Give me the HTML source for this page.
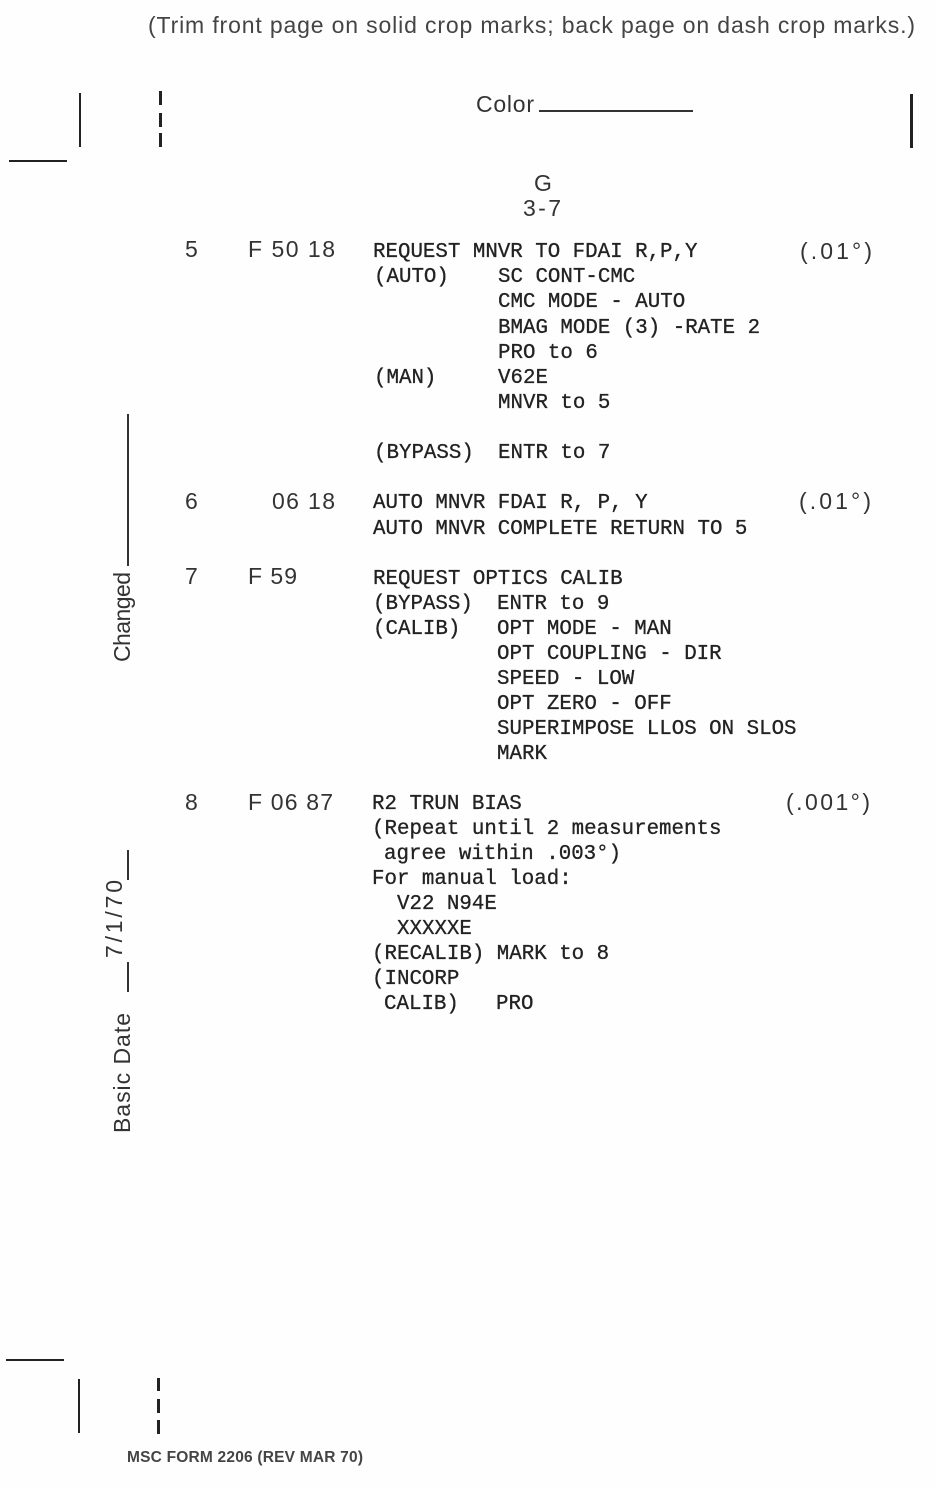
<!DOCTYPE html>
<html>
<head>
<meta charset="utf-8">
<style>
html,body{margin:0;padding:0;background:#fff;width:937px;height:1488px;overflow:hidden}
svg{display:block}
.m{font-family:"Liberation Mono",monospace;font-size:20.8px;fill:#222;stroke:#222;stroke-width:.3px}
.s{font-family:"Liberation Sans",sans-serif;font-size:23px;fill:#333}
</style>
</head>
<body>
<svg width="937" height="1488" viewBox="0 0 937 1488" xmlns="http://www.w3.org/2000/svg">
<rect width="937" height="1488" fill="#fefefe"/>
<text class="s" x="148" y="33" textLength="767" lengthAdjust="spacing" style="fill:#444">(Trim front page on solid crop marks; back page on dash crop marks.)</text>
<text class="s" x="476" y="112" textLength="58" lengthAdjust="spacing">Color</text>
<rect x="539" y="110" width="154" height="2" fill="#333"/>

<!-- crop marks -->
<g fill="#222">
<rect x="79" y="93" width="2" height="54"/>
<rect x="159" y="91" width="3" height="14"/>
<rect x="159" y="113" width="3" height="14"/>
<rect x="159" y="133" width="3" height="14"/>
<rect x="910" y="94" width="3" height="54"/>
<rect x="9" y="160" width="58" height="2"/>
<rect x="6" y="1359" width="58" height="2"/>
<rect x="78" y="1379" width="2" height="54"/>
<rect x="157" y="1378" width="3" height="13"/>
<rect x="157" y="1399" width="3" height="14"/>
<rect x="157" y="1420" width="3" height="14"/>
</g>

<!-- side -->
<rect x="127" y="414" width="2" height="152" fill="#333"/>
<rect x="127" y="850" width="2" height="30" fill="#333"/>
<rect x="127" y="962" width="2" height="30" fill="#333"/>
<text class="s" transform="translate(130,662) rotate(-90)" textLength="90" lengthAdjust="spacing">Changed</text>
<text class="s" transform="translate(122,958) rotate(-90)" textLength="78" lengthAdjust="spacing">7/1/70</text>
<text class="s" transform="translate(130,1133) rotate(-90)" textLength="120" lengthAdjust="spacing">Basic Date</text>

<text class="s" x="534" y="191">G</text>
<text class="s" x="523" y="216" textLength="38" lengthAdjust="spacing">3-7</text>

<!-- numbers -->
<text class="s" x="185" y="257">5</text>
<text class="s" x="248" y="257" textLength="87" lengthAdjust="spacing">F 50 18</text>
<text class="s" x="185" y="509">6</text>
<text class="s" x="272" y="509" textLength="63" lengthAdjust="spacing">06 18</text>
<text class="s" x="185" y="584">7</text>
<text class="s" x="248" y="584" textLength="49" lengthAdjust="spacing">F 59</text>
<text class="s" x="185" y="810">8</text>
<text class="s" x="248" y="810" textLength="85" lengthAdjust="spacing">F 06 87</text>

<text class="s" x="800" y="259" textLength="72" lengthAdjust="spacing">(.01°)</text>
<text class="s" x="799" y="509" textLength="72" lengthAdjust="spacing">(.01°)</text>
<text class="s" x="786" y="810" textLength="84" lengthAdjust="spacing">(.001°)</text>

<!-- body -->
<text class="m" x="373" y="257">REQUEST MNVR TO FDAI R,P,Y</text>
<text class="m" x="374" y="282">(AUTO)</text>
<text class="m" x="498" y="282">SC CONT-CMC</text>
<text class="m" x="498" y="307">CMC MODE - AUTO</text>
<text class="m" x="498" y="333">BMAG MODE (3) -RATE 2</text>
<text class="m" x="498" y="358">PRO to 6</text>
<text class="m" x="374" y="383">(MAN)</text>
<text class="m" x="498" y="383">V62E</text>
<text class="m" x="498" y="408">MNVR to 5</text>
<text class="m" x="374" y="458">(BYPASS)</text>
<text class="m" x="498" y="458">ENTR to 7</text>

<text class="m" x="373" y="508">AUTO MNVR FDAI R, P, Y</text>
<text class="m" x="373" y="534">AUTO MNVR COMPLETE RETURN TO 5</text>

<text class="m" x="373" y="584">REQUEST OPTICS CALIB</text>
<text class="m" x="373" y="609">(BYPASS)</text>
<text class="m" x="497" y="609">ENTR to 9</text>
<text class="m" x="373" y="634">(CALIB)</text>
<text class="m" x="497" y="634">OPT MODE - MAN</text>
<text class="m" x="497" y="659">OPT COUPLING - DIR</text>
<text class="m" x="497" y="684">SPEED - LOW</text>
<text class="m" x="497" y="709">OPT ZERO - OFF</text>
<text class="m" x="497" y="734">SUPERIMPOSE LLOS ON SLOS</text>
<text class="m" x="497" y="759">MARK</text>

<text class="m" x="372" y="809">R2 TRUN BIAS</text>
<text class="m" x="372" y="834">(Repeat until 2 measurements</text>
<text class="m" x="384" y="859">agree within .003°)</text>
<text class="m" x="372" y="884">For manual load:</text>
<text class="m" x="397" y="909">V22 N94E</text>
<text class="m" x="397" y="934">XXXXXE</text>
<text class="m" x="372" y="959">(RECALIB) MARK to 8</text>
<text class="m" x="372" y="984">(INCORP</text>
<text class="m" x="384" y="1009">CALIB)</text>
<text class="m" x="496" y="1009">PRO</text>

<text x="127" y="1462" font-family="Liberation Sans, sans-serif" font-size="15.5" font-weight="bold" fill="#444" textLength="236" lengthAdjust="spacing">MSC FORM 2206 (REV MAR 70)</text>
</svg>
</body>
</html>
